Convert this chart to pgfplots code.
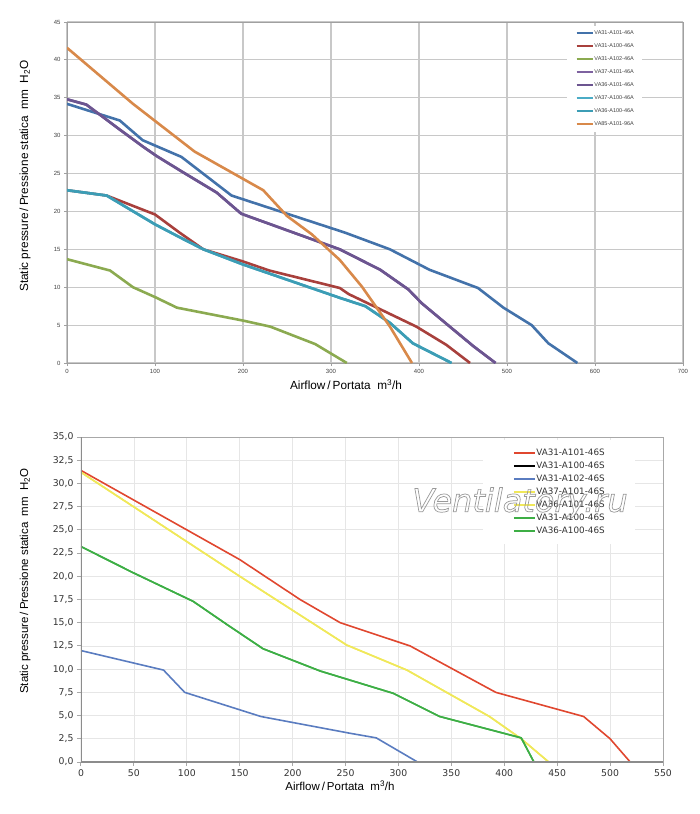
\documentclass[border=0pt]{standalone}
\usepackage{fontspec}
\usepackage{pgfplots}
\pgfplotsset{compat=1.18}
\setmainfont{Liberation Sans}
\newfontfamily\arialf{Liberation Sans}
\newfontfamily\verdf{DejaVu Sans}
\newfontfamily\verdfi{DejaVu Sans Oblique}
\definecolor{tblue}{HTML}{4372AA}
\definecolor{tred}{HTML}{A8403C}
\definecolor{tgreen}{HTML}{8BAA50}
\definecolor{tpurA}{HTML}{7E62A0}
\definecolor{tpurB}{HTML}{6C5590}
\definecolor{ttealA}{HTML}{4BACC6}
\definecolor{ttealB}{HTML}{3C9DB5}
\definecolor{torange}{HTML}{D8894A}
\definecolor{tgrid}{HTML}{C8C8C8}
\definecolor{taxis}{HTML}{A0A0A0}
\definecolor{bred}{HTML}{E0472F}
\definecolor{bblue}{HTML}{5A7CC0}
\definecolor{byellow}{HTML}{F0E85A}
\definecolor{bgreen}{HTML}{3DAE45}
\definecolor{bgrid}{HTML}{E6E6E6}
\definecolor{baxis}{HTML}{A8A8A8}
\begin{document}
\begin{tikzpicture}
\useasboundingbox (0pt,0pt) rectangle (700pt,-814pt);
% ---------------- TOP CHART ----------------
\begin{axis}[
  at={(67pt,-363pt)}, anchor=south west, scale only axis,
  width=616pt, height=341pt,
  xmin=0, xmax=700, ymin=0, ymax=45,
  xtick={0,100,...,700}, ytick={0,5,...,45},
  grid=major, major grid style={color=tgrid, line width=1.1pt},
  axis line style={color=taxis, line width=1pt},
  xtick pos=left, ytick pos=left, tick align=outside,
  major tick length=3pt, tick style={color=taxis, line width=0.8pt},
  tick label style={font=\arialf\fontsize{6}{7}\selectfont, text=black!75},
  /pgf/number format/assume math mode=true,
  xlabel={Airflow\,/\,Portata\ \ m\textsuperscript{3}/h},
  ylabel={Static pressure\,/\,Pressione statica\ \ mm\ \ H\textsubscript{2}O},
  xlabel style={at={(axis description cs:0.453,-0.063)}, anchor=center, font=\arialf\fontsize{11.8}{12}\selectfont},
  ylabel style={at={(axis description cs:-0.068,0.548)}, anchor=center, rotate=0, font=\arialf\fontsize{11.8}{12}\selectfont},
  legend cell align=left,
  legend style={at={(rel axis cs:0.812,0.99)}, anchor=north west, fill=white, draw=none,
    inner xsep=8pt, inner ysep=4pt, row sep=6pt,
    font=\arialf\fontsize{5.5}{6}\selectfont, text=black!75,
    nodes={inner sep=0.5pt, text height=4.5pt, text depth=1.5pt}},
  legend image code/.code={\draw[#1] (0pt,0pt) -- (16pt,0pt);},
  every axis plot/.append style={line width=2.6pt, line join=round},
]
\addplot[tblue] coordinates {(0,34.2)(60,32.0)(86,29.4)(130,27.2)(187,22.1)(316,17.2)(367,15.0)(412,12.3)(467,9.9)(496,7.3)(528,5.0)(547,2.6)(580,0)};
\addlegendentry{VA31-A101-46A}
\addplot[tred] coordinates {(0,22.8)(45,22.1)(100,19.6)(128,17.2)(155,15.0)(200,13.4)(230,12.2)(310,9.9)(320,9.1)(397,4.8)(431,2.4)(458,0)};
\addlegendentry{VA31-A100-46A}
\addplot[tgreen] coordinates {(0,13.7)(49,12.2)(75,10.0)(100,8.7)(125,7.3)(200,5.6)(231,4.8)(282,2.5)(318,0)};
\addlegendentry{VA31-A102-46A}
\addplot[tpurA] coordinates {(0,34.8)(22,34.1)(60,30.8)(87,28.5)(102,27.3)(130,25.3)(170,22.5)(198,19.7)(310,15.0)(356,12.3)(388,9.7)(403,7.9)(435,4.8)(462,2.2)(487,0)};
\addlegendentry{VA37-A101-46A}
\addplot[tpurB] coordinates {(0,34.8)(22,34.1)(60,30.8)(87,28.5)(102,27.3)(130,25.3)(170,22.5)(198,19.7)(310,15.0)(356,12.3)(388,9.7)(403,7.9)(435,4.8)(462,2.2)(487,0)};
\addlegendentry{VA36-A101-46A}
\addplot[ttealA] coordinates {(0,22.8)(45,22.1)(100,18.3)(128,16.6)(155,15.0)(200,13.0)(310,8.6)(339,7.5)(367,5.3)(393,2.6)(437,0)};
\addlegendentry{VA37-A100-46A}
\addplot[ttealB] coordinates {(0,22.8)(45,22.1)(100,18.3)(128,16.6)(155,15.0)(200,13.0)(310,8.6)(339,7.5)(367,5.3)(393,2.6)(437,0)};
\addlegendentry{VA36-A100-46A}
\addplot[torange] coordinates {(0,41.6)(75,34.2)(145,27.9)(223,22.8)(250,19.4)(278,17.0)(310,13.6)(335,10.1)(367,4.8)(392,0)};
\addlegendentry{VA85-A101-96A}
\end{axis}
% ---------------- BOTTOM CHART ----------------
\begin{axis}[
  at={(81pt,-762pt)}, anchor=south west, scale only axis,
  width=582pt, height=325pt,
  xmin=0, xmax=550, ymin=0, ymax=35,
  xtick={0,50,...,550}, ytick={0,2.5,...,35},
  grid=major, major grid style={color=bgrid, line width=0.8pt},
  axis line style={color=baxis, line width=0.8pt},
  xtick pos=left, ytick pos=left, tick align=outside,
  major tick length=4pt, tick style={color=baxis, line width=1pt},
  tick label style={font=\verdf\fontsize{9.3}{10}\selectfont, text=black!80},
  /pgf/number format/assume math mode=true,
  yticklabel style={/pgf/number format/.cd, fixed, fixed zerofill, precision=1, use comma},
  xlabel={Airflow\,/\,Portata\ \ m\textsuperscript{3}/h},
  ylabel={Static pressure\,/\,Pressione statica\ \ mm\ \ H\textsubscript{2}O},
  xlabel style={at={(axis description cs:0.445,-0.074)}, anchor=center, font=\arialf\fontsize{11.5}{12}\selectfont},
  ylabel style={at={(axis description cs:-0.096,0.557)}, anchor=center, rotate=0, font=\arialf\fontsize{11.5}{12}\selectfont},
  legend cell align=left,
  legend style={at={(rel axis cs:0.6907,0.991)}, anchor=north west, fill=white, draw=none,
    inner xsep=30pt, inner ysep=8pt, row sep=3pt,
    font=\verdf\fontsize{8.8}{9}\selectfont, text=black!80,
    nodes={inner sep=0.5pt, text height=7pt, text depth=2pt}},
  legend image code/.code={\draw[#1] (0pt,0pt) -- (21pt,0pt);},
  every axis plot/.append style={line width=1.6pt, line join=round},
]
\addplot[bred] coordinates {(0,31.4)(150,21.8)(207,17.5)(245,15.0)(311,12.5)(392,7.5)(475,4.9)(500,2.5)(519,0)};
\addlegendentry{VA31-A101-46S}
\addlegendimage{black, line width=1.6pt}
\addlegendentry{VA31-A100-46S}
\addplot[bblue] coordinates {(0,12.0)(78,9.9)(98,7.5)(170,4.9)(254,3.1)(279,2.6)(318,0)};
\addlegendentry{VA31-A102-46S}
\addplot[byellow] coordinates {(0,31.2)(150,20.0)(251,12.6)(308,9.9)(386,4.9)(416,2.5)(442,0)};
\addlegendentry{VA37-A101-46S}
\addplot[byellow] coordinates {(0,31.2)(150,20.0)(251,12.6)(308,9.9)(386,4.9)(416,2.5)(442,0)};
\addlegendentry{VA36-A101-46S}
\addplot[bgreen] coordinates {(0,23.2)(49,20.4)(106,17.3)(138,14.8)(172,12.2)(226,9.8)(295,7.4)(339,4.9)(416,2.6)(428,0)};
\addlegendentry{VA31-A100-46S}
\addplot[bgreen] coordinates {(0,23.2)(49,20.4)(106,17.3)(138,14.8)(172,12.2)(226,9.8)(295,7.4)(339,4.9)(416,2.6)(428,0)};
\addlegendentry{VA36-A100-46S}
\draw[color=black!45, line width=1.5pt] (rel axis cs:0,1) -- (rel axis cs:0,0) -- (rel axis cs:1,0);
\end{axis}
% watermark
\node[anchor=center, text=black!40, inner sep=0pt] at (520pt,-503pt)
  {\verdfi\fontsize{32}{32}\selectfont\special{pdf:literal direct 1 Tr 0.7 w}Ventilatory.ru\special{pdf:literal direct 0 Tr}};
\end{tikzpicture}
\end{document}
